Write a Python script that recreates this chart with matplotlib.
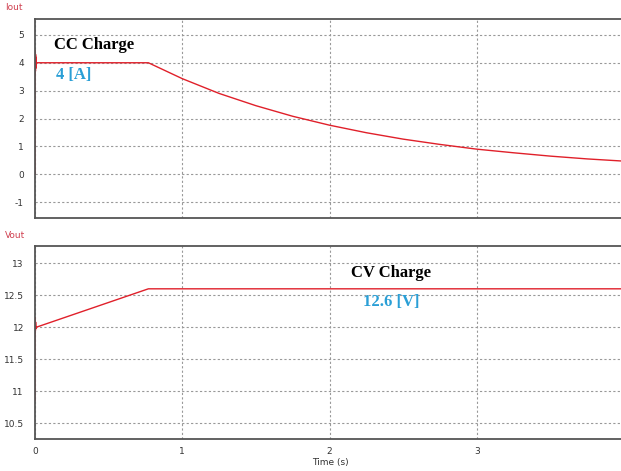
import matplotlib
matplotlib.use("Agg")
import matplotlib.pyplot as plt

plt.rcParams["axes.unicode_minus"] = False

# output current (A)
t_cur = [0.0, 0.0, 0.001, 0.002, 0.003, 0.004, 0.005, 0.006, 0.008, 0.01, 0.77,
         1.0, 1.25, 1.5, 1.75, 2.0, 2.25, 2.5, 2.75, 3.0, 3.25, 3.5, 3.75, 4.0]
i_out = [0.0, 4.45, 3.6, 4.4, 3.7, 4.3, 3.8, 4.2, 3.9, 4.0, 4.0,
         3.43, 2.90, 2.46, 2.08, 1.76, 1.49, 1.26, 1.07, 0.90, 0.77, 0.65, 0.55, 0.47]

# output voltage (V)
t_vol = [0.0, 0.0, 0.001, 0.002, 0.003, 0.004, 0.006, 0.01, 0.77, 4.0]
v_out = [10.85, 12.15, 11.9, 12.12, 11.95, 12.08, 11.98, 12.0, 12.6, 12.6]

x_ticks = [0, 1, 2, 3, 4]
i_ticks = [-1, 0, 1, 2, 3, 4, 5]
v_ticks = [10.5, 11, 11.5, 12, 12.5, 13]
v_labels = ["10.5", "11", "11.5", "12", "12.5", "13"]

red = "#e0202a"
blue = "#2a9fd6"
W, H = 621, 471

fig = plt.figure(figsize=(W / 100, H / 100), dpi=100)
ax1 = fig.add_axes([35 / W, (H - 218) / H, 589 / W, 199 / H])
ax2 = fig.add_axes([35 / W, (H - 439) / H, 589 / W, 193 / H])


def style(ax):
    ax.set_xlim(0, 4)
    ax.set_xticks(x_ticks)
    ax.grid(True, color="#999999", linestyle=(0, (2, 2)), linewidth=0.8)
    ax.tick_params(length=0, labelsize=6.5, colors="#333333", pad=8)
    for s in ["left", "bottom", "top"]:
        ax.spines[s].set_color("#555555")
        ax.spines[s].set_linewidth(1.3)
    ax.spines["right"].set_visible(False)


ax1.plot(t_cur, i_out, color=red, linewidth=1)
style(ax1)
ax1.set_ylim(-1.57, 5.57)
ax1.set_yticks(i_ticks)
ax1.set_xticklabels([])
ax1.text(0.13, 4.62, "CC Charge", family="Liberation Serif", fontweight="bold",
         fontsize=12, color="black", va="center")
ax1.text(0.14, 3.55, "4 [A]", family="Liberation Serif", fontweight="bold",
         fontsize=12, color=blue, va="center")

ax2.plot(t_vol, v_out, color=red, linewidth=1)
style(ax2)
ax2.set_ylim(10.25, 13.27)
ax2.set_yticks(v_ticks)
ax2.set_yticklabels(v_labels)
ax2.tick_params(axis="x", pad=6)
ax2.text(2.42, 12.84, "CV Charge", family="Liberation Serif", fontweight="bold",
         fontsize=12, color="black", ha="center", va="center")
ax2.text(2.42, 12.4, "12.6 [V]", family="Liberation Serif", fontweight="bold",
         fontsize=12, color=blue, ha="center", va="center")

fig.text(5 / W, 1 - 7 / H, "Iout", color="#d04050", fontsize=6.5, va="center")
fig.text(5 / W, 1 - 235 / H, "Vout", color="#d04050", fontsize=6.5, va="center")
fig.text(330 / W, 1 - 462 / H, "Time (s)", color="#333333", fontsize=6.5,
         ha="center", va="center")

fig.savefig("out.png", dpi=100)
